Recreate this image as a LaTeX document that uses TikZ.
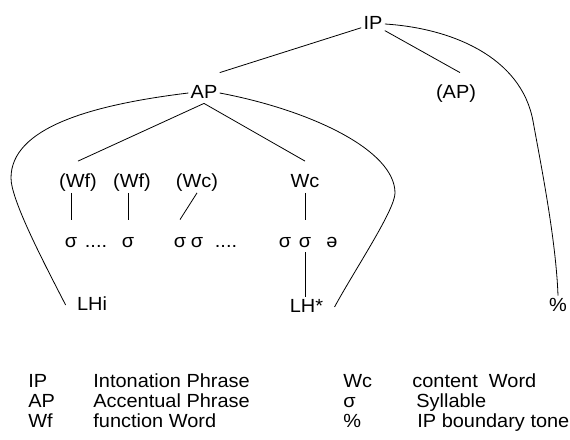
\documentclass[tikz,border=0pt]{standalone}
\usepackage{fontspec}
\setmainfont[FakeStretch=1.05]{Liberation Sans}

\begin{document}
\begin{tikzpicture}[x=1pt,y=-1pt,line width=0.8pt,
    every node/.style={font=\fontsize{19}{21}\selectfont,anchor=base,inner sep=2pt,
                       text height=13pt,text depth=3pt},
    word node/.style={text height=24pt},
    syl node/.style={text height=25pt},
    tone node/.style={inner xsep=11pt},
    key node/.style={anchor=base west,inner sep=0pt}]

  \useasboundingbox (0,0) rectangle (570,439);

  \node (IP) at (373,29) {IP};
  \node (AP) at (204,98) {AP};
  \node (APo) at (456,98) {(AP)};

  \node[word node] (Wf1) at (78,187.5) {(Wf)};
  \node[word node] (Wf2) at (132,187.5) {(Wf)};
  \node[word node] (Wco) at (197,187.5) {(Wc)};
  \node[word node] (Wc) at (305,187.5) {Wc};

  \node[syl node] (s1) at (71,247) {σ};
  \node[syl node] (d1) at (96,247) {....};
  \node[syl node] (s2) at (128,247) {σ};
  \node[syl node] (s3) at (180,247) {σ};
  \node[syl node] (s4) at (197,247) {σ};
  \node[syl node] (d2) at (226,247) {....};
  \node[syl node] (s5) at (285,247) {σ};
  \node[syl node] (s6) at (305,247) {σ};
  \node[syl node] (s7) at (332,247) {ə};

  \node[tone node] (LHi) at (92,310) {LHi};
  \node[tone node] (LHs) at (306.5,312) {LH*};
  \node[tone node] (pct) at (558,311) {\%};

  \draw (IP) -- ([yshift=10pt]AP.north east);
  \draw (IP) -- ([xshift=4pt,yshift=10pt]APo.north);
  \draw (AP.south) -- (Wf1.north);
  \draw (AP.south) -- (Wc.north);

  \draw (s1.north |- Wf1.south) -- (s1.north);
  \draw (s2.north |- Wf2.south) -- (s2.north);
  \draw (Wco.south) -- (s3.north);
  \draw (Wc.south) -- (s6.north);
  \draw (s6.south) -- (s6.south |- LHs.north);

  \draw (AP.west) .. controls (90,105) and (11,128) .. (11,178)
                  .. controls (11,200) and (44,263) .. (LHi.west);
  \draw (AP.east) .. controls (310,110) and (395,150) .. (395,193)
                  .. controls (395,210) and (354,271) .. (LHs.east);
  \draw (IP.east) .. controls (450,28) and (521,56) .. (533,121)
                  .. controls (541,165) and (556,240) .. (pct.north);

  \node[key node] (kIP) at (28,387) {IP};
  \node[key node] (tIP) at (93,387) {Intonation Phrase};
  \node[key node] (kAP) at (28,407) {AP};
  \node[key node] (tAP) at (93,407) {Accentual Phrase};
  \node[key node] (kWf) at (28,427) {Wf};
  \node[key node] (tWf) at (93,427) {function Word};
  \node[key node] (kWc) at (343,387) {Wc};
  \node[key node] (tWc) at (412,387) {content\ \ Word};
  \node[key node] (ksyl) at (343,407) {σ};
  \node[key node] (tsyl) at (416,407) {Syllable};
  \node[key node] (kpct) at (343,427) {\%};
  \node[key node] (tpct) at (417,427) {IP boundary tone};

\end{tikzpicture}
\end{document}
